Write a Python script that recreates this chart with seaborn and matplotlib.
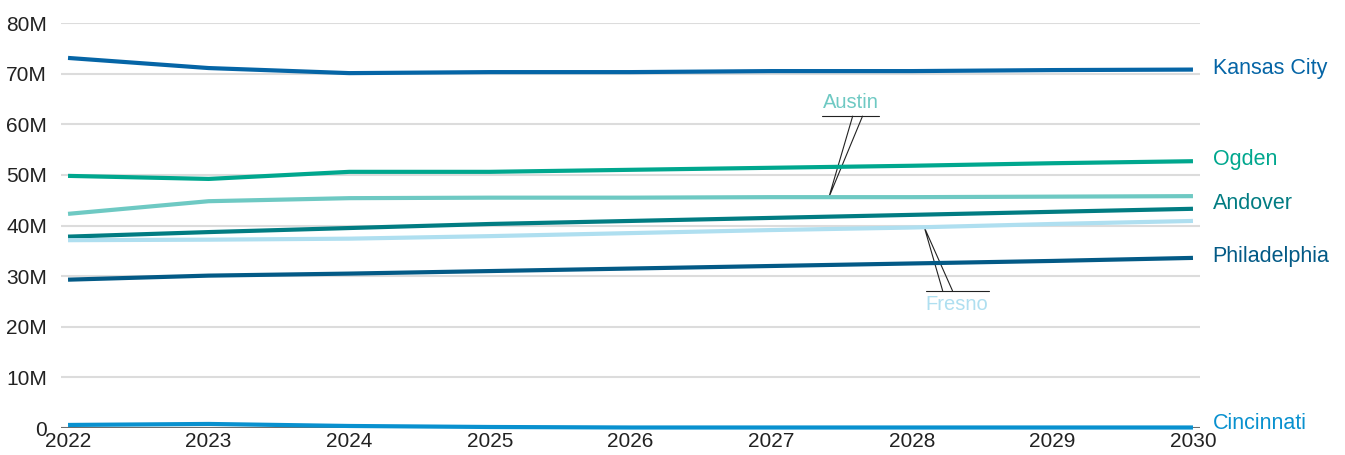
import matplotlib
matplotlib.use("Agg")
import matplotlib.pyplot as plt
import pandas as pd
import seaborn as sns

# Values in millions
years = [2022, 2023, 2024, 2025, 2026, 2027, 2028, 2029, 2030]
kansas_city = [73.1, 71.1, 70.1, 70.3, 70.3, 70.5, 70.5, 70.7, 70.8]
ogden = [49.8, 49.2, 50.6, 50.6, 51.0, 51.4, 51.8, 52.3, 52.7]
austin = [42.3, 44.8, 45.4, 45.5, 45.5, 45.6, 45.6, 45.7, 45.8]
andover = [37.8, 38.7, 39.5, 40.3, 40.9, 41.5, 42.1, 42.7, 43.3]
fresno = [37.1, 37.2, 37.4, 37.9, 38.5, 39.1, 39.6, 40.3, 40.9]
philadelphia = [29.3, 30.1, 30.5, 31.0, 31.5, 32.0, 32.5, 33.0, 33.6]
cincinnati = [0.6, 0.8, 0.4, 0.2, 0.1, 0.1, 0.1, 0.1, 0.1]

series = {
    "Kansas City": kansas_city,
    "Ogden": ogden,
    "Austin": austin,
    "Andover": andover,
    "Fresno": fresno,
    "Philadelphia": philadelphia,
    "Cincinnati": cincinnati,
}
colors = {
    "Kansas City": "#0565a6",
    "Ogden": "#00a78e",
    "Austin": "#6ec9c3",
    "Andover": "#017c82",
    "Fresno": "#afdff0",
    "Philadelphia": "#035a86",
    "Cincinnati": "#0991cf",
}
# cities labelled at the right edge (and the label's value position)
right_labels = {
    "Kansas City": 71.0,
    "Ogden": 53.0,
    "Andover": 44.4,
    "Philadelphia": 33.8,
    "Cincinnati": 0.9,
}

rows = []
for city, vals in series.items():
    for y, v in zip(years, vals):
        rows.append({"year": y, "value": v * 1e6, "city": city})
df = pd.DataFrame(rows)

sns.set_style("white")
plt.rcParams["font.family"] = ["Liberation Sans", "DejaVu Sans"]

fig = plt.figure(figsize=(13.45, 4.55), dpi=100)
ax = fig.add_axes([61 / 1345, 27 / 455, 1139 / 1345, 405 / 455])

sns.lineplot(
    data=df, x="year", y="value", hue="city", palette=colors,
    linewidth=3, legend=False, ax=ax, clip_on=False, zorder=3,
)
for line in ax.lines:
    line.set_solid_capstyle("butt")

ax.set_xlim(2021.95, 2030.05)
ax.set_ylim(0, 80e6)
yticks = [i * 10e6 for i in range(9)]
ax.set_yticks(yticks)
ax.set_yticklabels(["0"] + [f"{i * 10}M" for i in range(1, 9)])
ax.set_xticks(years)
ax.set_xticklabels([str(y) for y in years])
ax.tick_params(axis="y", length=0, labelsize=15, labelcolor="#222222", pad=10)
ax.tick_params(axis="x", length=0, labelsize=15, labelcolor="#222222", pad=3)

for y in yticks[1:]:
    ax.axhline(y, color="#dcdcdc", lw=1.5, zorder=1)
ax.axhline(0, color="#6d6d6d", lw=1.5, zorder=2)
for s in ax.spines.values():
    s.set_visible(False)
ax.set_xlabel("")
ax.set_ylabel("")

for city, yv in right_labels.items():
    ax.text(2030.14, yv * 1e6, city, color=colors[city], fontsize=15.5,
            va="center", ha="left", clip_on=False)

# callouts for Austin and Fresno
ax.plot([2027.36, 2027.77], [61.6e6, 61.6e6], color="#222222", lw=0.8)
ax.plot([2027.58, 2027.41, 2027.65], [61.6e6, 45.5e6, 61.6e6], color="#222222", lw=0.8)
ax.text(2027.57, 62.4e6, "Austin", color=colors["Austin"], fontsize=14.5,
        ha="center", va="bottom")

ax.plot([2028.10, 2028.55], [27.1e6, 27.1e6], color="#222222", lw=0.8)
ax.plot([2028.22, 2028.09, 2028.29], [27.1e6, 39.6e6, 27.1e6], color="#222222", lw=0.8)
ax.text(2028.32, 26.2e6, "Fresno", color=colors["Fresno"], fontsize=14.5,
        ha="center", va="top")

fig.savefig("out.png", dpi=100)
